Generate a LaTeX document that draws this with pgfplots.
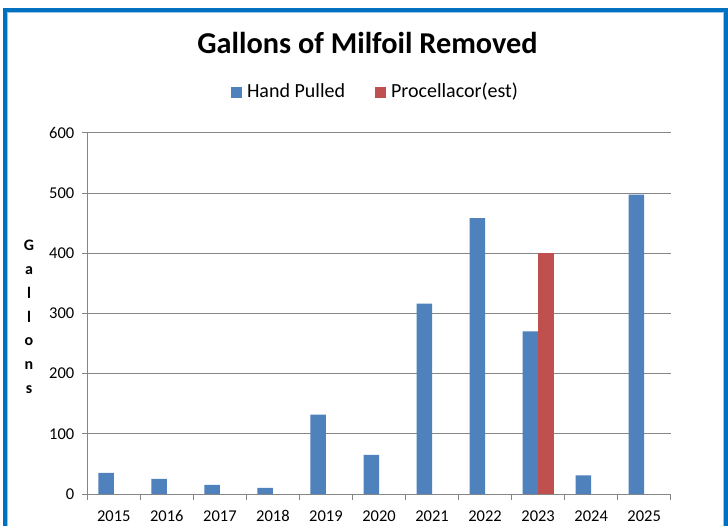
\documentclass[border=0pt]{standalone}
\usepackage{fontspec}
\setmainfont{Carlito}
\usepackage{pgfplots}
\pgfplotsset{compat=1.18}
\definecolor{hpblue}{HTML}{4F81BD}
\definecolor{procred}{HTML}{C0504D}
\definecolor{axisgray}{HTML}{868686}
\definecolor{framblue}{HTML}{0070C0}
\definecolor{framlight}{HTML}{9DC3E6}
\begin{document}
\begin{tikzpicture}
\useasboundingbox (0pt,0pt) rectangle (728pt,525pt);
\clip (0pt,0pt) rectangle (728pt,525pt);
\fill[white] (0pt,0pt) rectangle (728pt,525pt);
% frame
\draw[framblue, line width=4pt] (5.3pt,-20pt) -- (5.3pt,515pt) -- (726pt,515pt) -- (726pt,-20pt);
\draw[framlight, line width=0.8pt] (7.7pt,-20pt) -- (7.7pt,512.6pt) -- (723.6pt,512.6pt) -- (723.6pt,-20pt);
% title
\node[anchor=base, font=\fontsize{30.3}{36}\selectfont\bfseries] at (367.5pt,471.7pt) {Gallons of Milfoil Removed};
% y label
\node[anchor=base, font=\fontsize{16}{18}\selectfont\bfseries, inner sep=0pt] at (29pt,274.0pt) {G};
\node[anchor=base, font=\fontsize{16}{18}\selectfont\bfseries, inner sep=0pt] at (29pt,250.3pt) {a};
\node[anchor=base, font=\fontsize{16}{18}\selectfont\bfseries, inner sep=0pt] at (29pt,226.6pt) {l};
\node[anchor=base, font=\fontsize{16}{18}\selectfont\bfseries, inner sep=0pt] at (29pt,202.9pt) {l};
\node[anchor=base, font=\fontsize{16}{18}\selectfont\bfseries, inner sep=0pt] at (29pt,179.2pt) {o};
\node[anchor=base, font=\fontsize{16}{18}\selectfont\bfseries, inner sep=0pt] at (29pt,155.5pt) {n};
\node[anchor=base, font=\fontsize{16}{18}\selectfont\bfseries, inner sep=0pt] at (29pt,131.8pt) {s};
\begin{axis}[
  at={(87.3pt,31pt)}, anchor=south west,
  scale only axis, width=583.4pt, height=361.3pt,
  xmin=-0.5, xmax=10.5, ymin=0, ymax=600,
  axis x line*=bottom, axis y line*=left,
  axis line style={draw=axisgray, line width=0.8pt, -},
  ytick={0,100,...,600},
  ymajorgrids, grid style={draw=axisgray, line width=0.8pt},
  tick align=outside, tick pos=left,
  major tick length=5.5pt,
  tick style={draw=axisgray, line width=0.8pt},
  xtick={-0.5,0.5,...,10.5}, xticklabels={},
  extra x ticks={0,1,...,10},
  extra x tick labels={2015,2016,2017,2018,2019,2020,2021,2022,2023,2024,2025},
  extra x tick style={major tick length=0pt},
  /pgf/number format/assume math mode=true,
  ticklabel style={font=\fontsize{16.5}{19}\selectfont},
  yticklabel style={xshift=-4pt},
  xticklabel style={anchor=base, yshift=-27.7pt},
  legend style={at={(0.494,1.106)}, anchor=center, draw=none, fill=none,
     legend columns=2, font=\fontsize{20}{24}\selectfont,
     nodes={text depth=0.3em, text height=0.75em},
     /tikz/every odd column/.append style={column sep=3pt},
     /tikz/every even column/.append style={column sep=28pt}},
  legend image code/.code={\fill[#1, draw=none] (0pt,-3pt) rectangle (11pt,8pt);},
]
\addplot[ybar, bar width=15.5pt, bar shift=-7.75pt, fill=hpblue, draw=none]
  coordinates {(0,35) (1,25) (2,15) (3,10) (4,132) (5,65) (6,316) (7,458) (8,270) (9,31) (10,497)};
\addlegendentry{Hand Pulled}
\addplot[ybar, bar width=15.5pt, bar shift=7.75pt, fill=procred, draw=none]
  coordinates {(8,400)};
\addlegendentry{Procellacor(est)}
\end{axis}
\end{tikzpicture}
\end{document}
